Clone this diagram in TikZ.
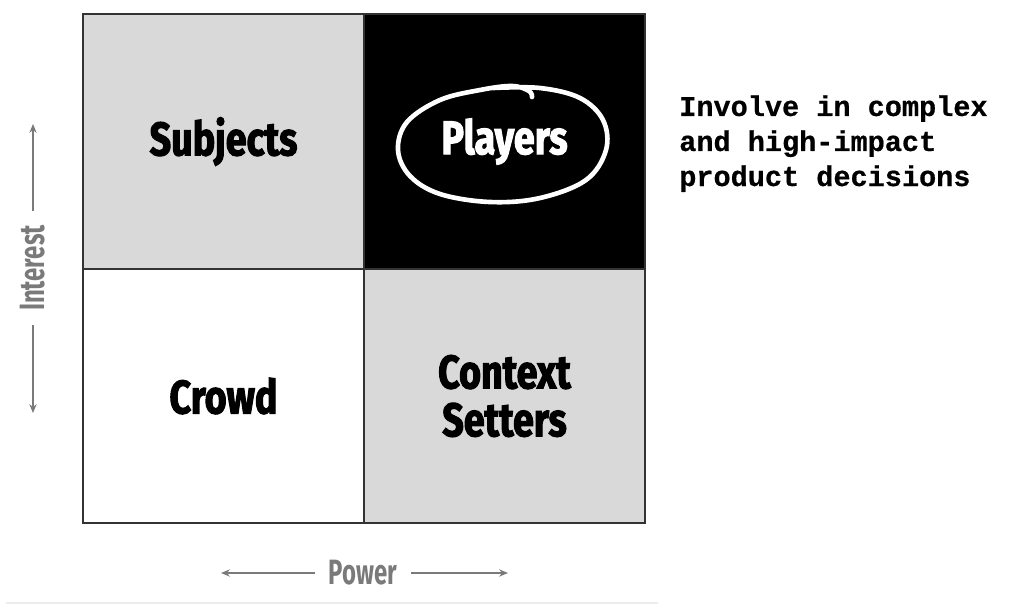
\documentclass[tikz,border=0pt]{standalone}
\usepackage{fontspec}
\usepackage{tikz}
\usetikzlibrary{arrows.meta, positioning, calc}

\newfontfamily\quadfont[FakeStretch=0.8, FakeBold=2.2]{Fira Sans}
\newfontfamily\axisfont[FakeStretch=0.68]{Fira Sans}
\newfontfamily\notefont[FakeBold=0.6]{Liberation Mono}

\definecolor{cellgray}{HTML}{D9D9D9}
\definecolor{axisgray}{HTML}{7A7A7A}
\definecolor{gridline}{HTML}{333333}

\begin{document}
\begin{tikzpicture}[
  x=0.025cm, y=-0.025cm,
  cell/.style={rectangle, draw=gridline, line width=1.1pt, inner sep=0pt,
               minimum width=7.025cm, minimum height=6.36cm,
               align=center, font=\quadfont\bfseries\fontsize{33.5}{34}\selectfont},
  axislabel/.style={text=axisgray, inner sep=0pt, inner xsep=0.35cm,
                    font=\axisfont\bfseries\fontsize{25}{25}\selectfont},
  axarr/.style={-{Stealth[length=2.2mm, width=1.8mm]}, line width=1.6pt, draw=axisgray},
  note/.style={anchor=north west, inner sep=0pt, align=left,
               font=\notefont\bfseries\fontsize{20.3}{24.9}\selectfont}
]
  \useasboundingbox (0,0) rectangle (1024,613);

  % quadrants
  \node[cell, fill=cellgray]          (subjects) at (223.5,141.5) {Subjects};
  \node[cell, fill=black, text=white] (players)  at (504.5,141.5) {Players};
  \node[cell, fill=white]             (crowd)    at (223.5,396)   {Crowd};
  \node[cell, fill=cellgray]          (context)  at (504.5,396)   {Context\\Setters};

  % hand drawn circle round players
  \draw[white, line width=3.3pt, line cap=round, line join=round]
    plot[smooth, tension=0.6] coordinates {(493,88) (540,88) (580,98) (603,120)
      (606,150) (586,180) (540,198) (490,202) (440,194) (410,176) (398,150)
      (407,122) (440,100) (480,90) (512,86) (529,91) (532,97)};

  \node[note] (advice) at (679,95) {Involve in complex\\and high-impact\\product decisions};

  % axes
  \node[axislabel, rotate=90] (interest) at (33,268) {Interest};
  \coordinate (intop) at (33,124);
  \coordinate (inbot) at (33,413);
  \draw[axarr] (interest.east) -- (intop);
  \draw[axarr] (interest.west) -- (inbot);

  \node[axislabel] (power) at (363,573) {Power};
  \coordinate (powleft)  at (221,573);
  \coordinate (powright) at (508,573);
  \draw[axarr] (power.west) -- (powleft);
  \draw[axarr] (power.east) -- (powright);

  \coordinate (rulea) at (6,603);
  \coordinate (ruleb) at (658,603);
  \draw[black!7, line width=0.8pt] (rulea) -- (ruleb);
\end{tikzpicture}
\end{document}
